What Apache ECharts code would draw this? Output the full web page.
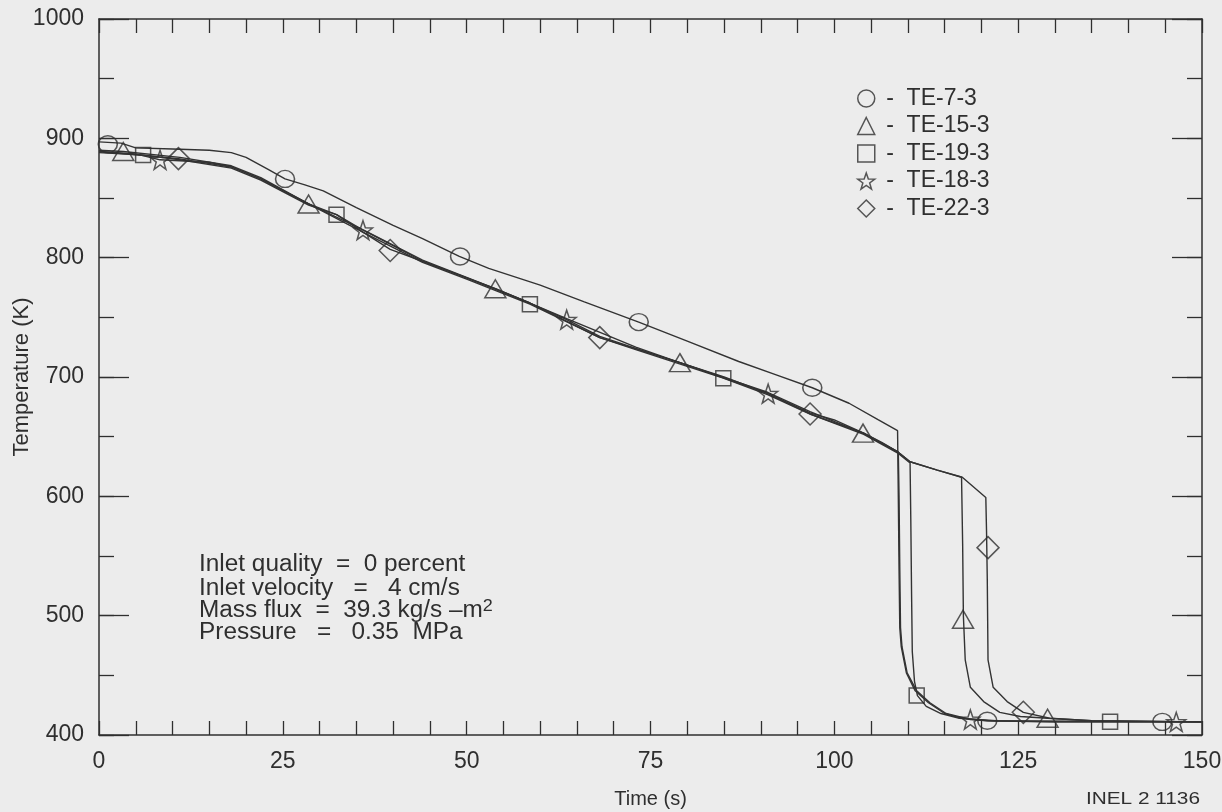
<!DOCTYPE html>
<html>
<head>
<meta charset="utf-8">
<script src="https://cdn.jsdelivr.net/npm/echarts@6/dist/echarts.min.js"></script>
<style>
  html, body { margin: 0; padding: 0; background: #ececec; }
  #chart { width: 1222px; height: 812px; }
</style>
</head>
<body>
<div id="chart"></div>
<script>
// Thermocouple traces: [time (s), temperature (K)]
const te7_3 = [[0,897],[3,896],[5,892],[10,891],[15,890],[18,888],[20,884],[23,874],[25.3,866],[28,861],[30.5,856],[35,842],[40,827],[44,816],[49,801],[53,791],[60,777],[66,763],[73.4,746],[80,730],[87,713],[92,702],[97,691],[102,678],[106,664],[108.6,655],[108.7,600],[108.8,540],[108.9,490],[109.1,474],[109.8,452],[111,437],[112.8,427],[115,418],[117.3,414],[120.8,412],[130,411],[150,411]];
const te15_3 = [[0,890],[3.3,889],[11,884],[18,877],[22,867],[28.5,845],[36,823],[44,798],[53.9,774],[63.6,749],[73,725],[79,712],[91,687],[96.7,671],[103.9,653],[108.7,637],[110.3,629],[114,622],[117.3,616],[117.45,560],[117.55,500],[117.8,463],[118.5,440],[120.3,428],[122.5,419],[125.3,415.5],[129,414],[135,412],[150,411]];
const te19_3 = [[0,888],[6,886],[11,882],[18,875],[22,865],[28.5,844],[32.3,836],[36,821],[44,796],[50,782],[58.6,761],[68.1,733],[73,723],[84.9,699],[91,685],[96.7,669],[104,652],[108.7,636],[110.3,628],[110.4,580],[110.5,520],[110.6,470],[110.9,445],[111.3,433],[112.5,424],[114.5,418],[117,414],[122,412],[150,411]];
const te18_3 = [[0,889],[5,887],[8.3,882],[15,880],[18,876],[22,866],[26,853],[28.5,845],[32.3,836],[35.9,823],[40,810],[44,797],[50,783],[53.9,774],[58.6,762],[63.6,748],[68.1,734],[73,724],[79,712],[85,700],[91,686],[96.7,670],[100,664],[104,653],[106.5,645],[108.7,637],[108.8,600],[108.9,540],[109,490],[109.2,474],[109.9,452],[111.2,437],[113,427],[115.2,418],[118.5,413],[121,412],[130,411],[150,411]];
const te22_3 = [[0,889],[10.8,883],[18,876],[22,866],[28.5,845],[36,821],[39.6,807],[44,797],[50,783],[58.6,762],[68.1,733],[79,712],[91,686],[96.7,669],[104,653],[108.7,637],[110.3,629],[114,622],[117.4,616],[120.6,599],[120.7,570],[120.8,530],[120.9,463],[121.6,440],[123.5,428],[125.7,419],[129.3,414],[135,412],[150,411]];

// Marker positions along each trace
const te7_3Marks = [[1.2,895],[25.3,866],[49.1,801],[73.4,746],[97,691],[120.8,412],[144.6,411]];
const te15_3Marks = [[3.3,889],[28.5,845],[53.9,774],[79,712],[103.9,653],[117.5,497],[129,414]];
const te19_3Marks = [[6,886],[32.3,836],[58.6,761],[84.9,699],[111.2,433],[137.5,411]];
const te18_3Marks = [[8.3,882],[35.9,823],[63.6,748],[91,686],[118.5,413],[146.5,411]];
const te22_3Marks = [[10.8,883],[39.6,806],[68.1,733],[96.7,669],[120.9,557],[125.7,419]];

const sensorNames = ['TE-7-3', 'TE-15-3', 'TE-19-3', 'TE-18-3', 'TE-22-3'];
const xTickLabels = [0, 25, 50, 75, 100, 125, 150];
const yTickLabels = [400, 500, 600, 700, 800, 900, 1000];
const conditions = ['Inlet quality  =  0 percent', 'Inlet velocity   =   4 cm/s', 'Mass flux  =  39.3 kg/s \u2013m{sup|2}', 'Pressure   =   0.35  MPa'];

const FONT = '"Liberation Sans", Arial, Helvetica, sans-serif';
const INK = '#2f2f2f';
const STAR = 'path://M0,-10 L2.35,-3.24 L9.51,-3.09 L3.8,1.24 L5.88,8.09 L0,4 L-5.88,8.09 L-3.8,1.24 L-9.51,-3.09 L-2.35,-3.24 Z';

const traces = [te7_3, te15_3, te19_3, te18_3, te22_3];
const marks = [te7_3Marks, te15_3Marks, te19_3Marks, te18_3Marks, te22_3Marks];
const symbols = ['circle', 'triangle', 'rect', STAR, 'diamond'];
const symbolSizes = [[19, 17], [21, 18], [15, 15], [19, 19], [22, 22]];

const hollow = { color: 'rgba(0,0,0,0)', borderColor: INK, borderWidth: 1.5 };

const series = [];
traces.forEach((d, i) => {
  series.push({
    name: sensorNames[i] + ' trace',
    type: 'line',
    data: d,
    showSymbol: false,
    symbol: 'none',
    lineStyle: { color: '#333', width: 1.4 },
    xAxisIndex: 0, yAxisIndex: 0,
    z: 2
  });
});
marks.forEach((d, i) => {
  series.push({
    name: sensorNames[i],
    type: 'scatter',
    data: d,
    symbol: symbols[i],
    symbolSize: symbolSizes[i],
    itemStyle: hollow,
    xAxisIndex: 0, yAxisIndex: 0,
    z: 3
  });
});

const axisLine = { show: true, lineStyle: { color: INK, width: 1.5 } };
const tickStyle = { color: INK, width: 1.3 };
const labelStyle = { fontFamily: FONT, fontSize: 23, color: INK };

// Test-condition notes, one text line each, set slightly wide
const condY = [565, 589, 611, 633];
const notes = conditions.map((t, i) => ({
  type: 'text', x: 199, y: condY[i], scaleX: 1.06,
  style: {
    text: t, fontFamily: FONT, fontSize: 23, fill: INK, verticalAlign: 'middle',
    rich: { sup: { fontFamily: FONT, fontSize: 17, fill: INK, verticalAlign: 'top', padding: [0, 0, 10, 0] } }
  }
}));

const chart = echarts.init(document.getElementById('chart'), null, { renderer: 'canvas' });
chart.setOption({
  animation: false,
  backgroundColor: '#ececec',
  grid: { left: 99, right: 20, top: 19, bottom: 77, containLabel: false, outerBoundsMode: 'none' },
  legend: {
    data: sensorNames,
    orient: 'vertical',
    left: 852,
    top: 82,
    itemWidth: 17,
    itemHeight: 17,
    itemGap: 4.5,
    selectedMode: false,
    itemStyle: hollow,
    formatter: name => ' -  ' + name,
    textStyle: { fontFamily: FONT, fontSize: 23, color: INK, lineHeight: 23 }
  },
  xAxis: [
    {
      type: 'value', position: 'bottom', min: 0, max: 150, interval: 5,
      axisLine: axisLine,
      axisTick: { inside: true, length: 14, lineStyle: tickStyle },
      axisLabel: Object.assign({ margin: 15, formatter: v => xTickLabels.includes(v) ? String(v) : '' }, labelStyle),
      splitLine: { show: false },
      name: 'Time (s)', nameLocation: 'middle', nameGap: 54, nameMoveOverlap: false,
      nameTextStyle: { fontFamily: FONT, fontSize: 20, color: INK }
    },
    {
      type: 'value', position: 'top', min: 0, max: 150, interval: 5,
      axisLine: axisLine,
      axisTick: { inside: true, length: 14, lineStyle: tickStyle },
      axisLabel: { show: false },
      splitLine: { show: false }
    }
  ],
  yAxis: [
    {
      type: 'value', position: 'left', min: 400, max: 1000, interval: 50,
      axisLine: axisLine,
      axisTick: { inside: true, length: 15, lineStyle: tickStyle },
      axisLabel: Object.assign({ margin: 15, formatter: v => yTickLabels.includes(v) ? String(v) : '' }, labelStyle),
      splitLine: { show: false },
      name: 'Temperature (K)', nameLocation: 'middle', nameGap: 66, nameMoveOverlap: false,
      nameTextStyle: { fontFamily: FONT, fontSize: 22, color: INK }
    },
    {
      type: 'value', position: 'left', min: 400, max: 1000, interval: 100,
      axisLine: { show: false },
      axisTick: { inside: true, length: 30, lineStyle: tickStyle },
      axisLabel: { show: false },
      splitLine: { show: false }
    },
    {
      type: 'value', position: 'right', min: 400, max: 1000, interval: 50,
      axisLine: axisLine,
      axisTick: { inside: true, length: 15, lineStyle: tickStyle },
      axisLabel: { show: false },
      splitLine: { show: false }
    },
    {
      type: 'value', position: 'right', min: 400, max: 1000, interval: 100,
      axisLine: { show: false },
      axisTick: { inside: true, length: 30, lineStyle: tickStyle },
      axisLabel: { show: false },
      splitLine: { show: false }
    }
  ],
  graphic: notes.concat([
    { type: 'text', x: 1200, y: 800, scaleX: 1.3, style: { text: 'INEL 2 1136', fontFamily: FONT, fontSize: 16, fill: INK, align: 'right', verticalAlign: 'middle' } }
  ]),
  series: series
});
</script>
</body>
</html>
